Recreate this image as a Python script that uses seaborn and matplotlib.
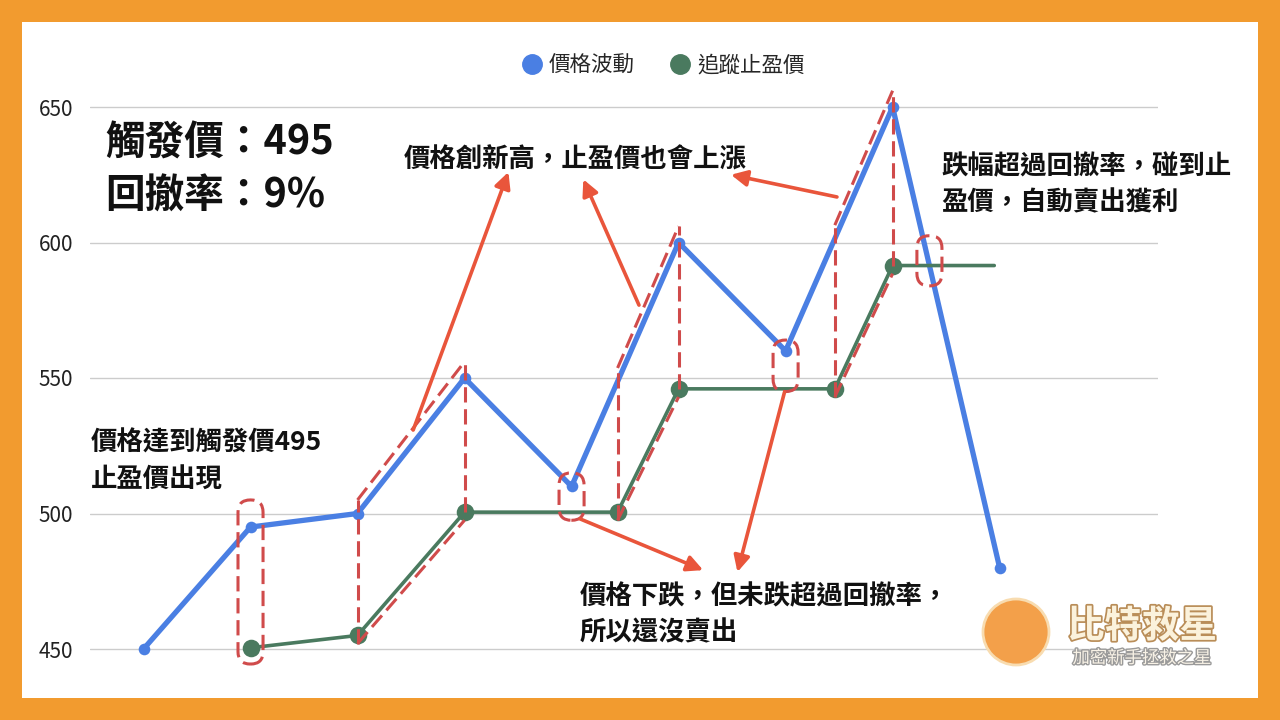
import numpy as np
import pandas as pd
import matplotlib
matplotlib.use("Agg")
import matplotlib.pyplot as plt
import seaborn as sns
from matplotlib.patches import FancyBboxPatch, Rectangle, Ellipse
from matplotlib.lines import Line2D
import matplotlib.patheffects as pe

# chart data
steps = list(range(9))
price = [450, 495, 500, 550, 510, 600, 560, 650, 480]
stop_x = [1, 2, 3, 4.43, 5, 6.46, 7, 7.95]
stop_price = [450.45, 455, 500.5, 500.5, 546, 546, 591.5, 591.5]
y_ticks = [450, 500, 550, 600, 650]
series_names = ["價格波動", "追蹤止盈價"]

BLUE = "#4a7fe3"
GREEN = "#4a7a5f"
DASH_RED = "#d04b4b"
ARROW_RED = "#e9553b"
ORANGE = "#f29b2f"

sns.set_theme(style="white")
plt.rcParams["font.family"] = ["Noto Sans CJK TC", "DejaVu Sans"]

fig = plt.figure(figsize=(12.8, 7.2), dpi=100, facecolor=ORANGE)
# white card behind everything
fig.patches.append(Rectangle((22 / 1280, 22 / 720), 1236 / 1280, 676 / 720,
                             transform=fig.transFigure, fc="white", ec="none", zorder=-5))

ax = fig.add_axes([90 / 1280, (720 - 676.1) / 720, 1068 / 1280, 596.2 / 720])
ax.set_facecolor("none")
ax.set_zorder(2)

price_df = pd.DataFrame({"x": steps, "y": price})
stop_df = pd.DataFrame({"x": stop_x, "y": stop_price})

sns.lineplot(data=price_df, x="x", y="y", color=BLUE, lw=3.8, ax=ax, zorder=3)
sns.scatterplot(data=price_df, x="x", y="y", color=BLUE, s=70, linewidth=0, ax=ax, zorder=4)
sns.lineplot(data=stop_df, x="x", y="y", color=GREEN, lw=2.6, ax=ax, zorder=3)
sns.scatterplot(data=stop_df.iloc[:-1], x="x", y="y", color=GREEN, s=160, linewidth=0, ax=ax, zorder=4)

ax.set_xlim(-0.5, 9.48)
ax.set_ylim(440, 660)
ax.set_yticks(y_ticks)
ax.set_xticks([])
ax.set_xlabel("")
ax.set_ylabel("")
ax.tick_params(axis="y", length=0, pad=12, labelsize=15, labelcolor="#222222")
ax.grid(axis="y", color="#cccccc", lw=1)
ax.set_axisbelow(True)
for s in ax.spines.values():
    s.set_visible(False)


def blue_at(x):
    return np.interp(x, steps, price)


def stop_at(x):
    return np.interp(x, stop_x, stop_price)


# red dashed guides where price makes new highs
dash_kw = dict(color=DASH_RED, lw=2.2, linestyle=(0, (5, 2.2)), zorder=5)
rises = [(stop_x[1], stop_x[2]), (stop_x[3], stop_x[4]), (stop_x[5], stop_x[6])]
for x0, x1 in rises:
    ax.plot([x0, x1], [blue_at(x0) + 5, blue_at(x1) + 6], **dash_kw)
    ax.plot([x0, x1], [stop_at(x0) - 3, stop_at(x1) - 3], **dash_kw)
    ax.plot([x0, x0], [stop_at(x0) - 3, blue_at(x0) + 5], **dash_kw)
    ax.plot([x1, x1], [stop_at(x1), blue_at(x1) + 6], **dash_kw)

# dashed capsules
cross_x = 7 + (650 - stop_price[-1]) / (650 - 480)
capsules = [(steps[1], stop_price[0] - 6, price[1] + 10),
            (steps[4], stop_price[2] - 3, price[4] + 5),
            (steps[6], stop_price[4] - 1, price[6] + 4),
            (cross_x, stop_price[-1] - 7.5, stop_price[-1] + 11)]
half_w = 0.117
for cx, y0, y1 in capsules:
    box = FancyBboxPatch((cx - half_w, y0), 2 * half_w, y1 - y0,
                         boxstyle="round,pad=0,rounding_size=0.115",
                         mutation_aspect=39.5, fc="none", ec=DASH_RED,
                         lw=2.2, linestyle=(0, (5, 2.2)), zorder=6)
    ax.add_patch(box)

# arrows
arrows = [((2.52, 530.8), (3.41, 626.0)),
          ((4.63, 576.9), (4.11, 623.3)),
          ((6.48, 616.8), (5.49, 625.0)),
          ((4.08, 498.0), (5.23, 479.1)),
          ((5.99, 544.8), (5.55, 478.4))]
for tail, head in arrows:
    ax.annotate("", xy=head, xytext=tail,
                arrowprops=dict(arrowstyle="-|>", color=ARROW_RED, lw=2.6,
                                mutation_scale=24, shrinkA=0, shrinkB=0),
                zorder=7)


def ftext(px, py, s, size, **kw):
    fig.text(px / 1280, 1 - py / 720, s, fontsize=size, fontweight="black",
             color="#111111", va="center", ha="left", **kw)


ftext(105, 143, "觸發價：495", 28.5)
ftext(105, 196, "回撤率：9%", 28.5)
ftext(404, 160, "價格創新高，止盈價也會上漲", 19)
ftext(941, 167, "跌幅超過回撤率，碰到止", 19)
ftext(941, 203, "盈價，自動賣出獲利", 19)
ftext(91, 443, "價格達到觸發價495", 19)
ftext(91, 480, "止盈價出現", 19)
ftext(580, 597, "價格下跌，但未跌超過回撤率，", 19)
ftext(580, 633, "所以還沒賣出", 19)

# legend
handles = [Line2D([], [], marker="o", linestyle="none", markersize=14, color=BLUE),
           Line2D([], [], marker="o", linestyle="none", markersize=14, color=GREEN)]
fig.legend(handles, series_names, loc="center", bbox_to_anchor=(663 / 1280, 1 - 66 / 720),
           ncol=2, frameon=False, fontsize=15.5, handletextpad=0.3, columnspacing=1.6,
           handlelength=1.0)

# watermark logo
fig.patches.append(Ellipse((1016 / 1280, 1 - 632 / 720), 66 / 1280, 66 / 720,
                           transform=fig.transFigure, fc="#f3a04a", ec="#f8dcb0",
                           lw=2, zorder=5))
fig.text(1142 / 1280, 1 - 626 / 720, "比特救星", fontsize=27, fontweight="bold",
         color="#fbf2dc", ha="center", va="center", zorder=6,
         path_effects=[pe.withStroke(linewidth=2.5, foreground="#b98d58")])
fig.text(1142 / 1280, 1 - 658 / 720, "加密新手拯救之星", fontsize=12.5,
         color="#f8f2e6", ha="center", va="center", zorder=6,
         path_effects=[pe.withStroke(linewidth=2, foreground="#9a9a9a")])

fig.savefig("out.png", dpi=100, facecolor=fig.get_facecolor())
